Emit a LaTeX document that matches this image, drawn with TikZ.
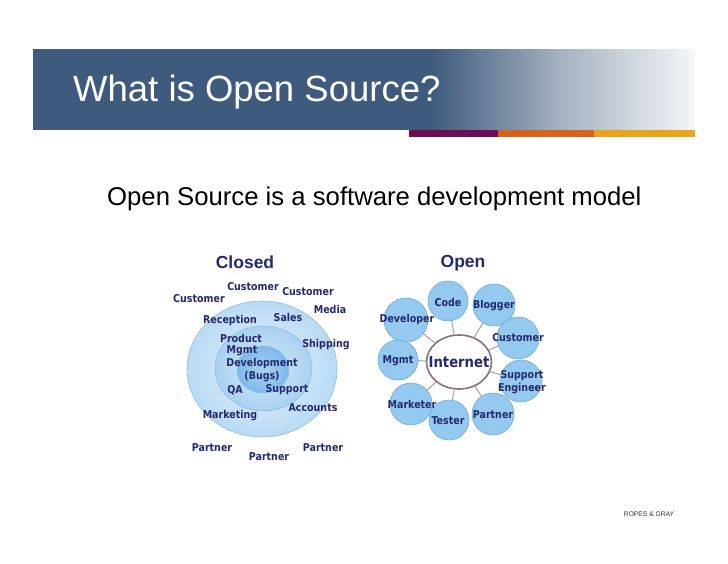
\documentclass[tikz,border=0pt]{standalone}
\usepackage{fontspec}
\setmainfont{Liberation Sans}
\newfontfamily\labfont{DejaVu Sans}[FakeStretch=0.88]
\usetikzlibrary{shapes.geometric}
\definecolor{bandblue}{HTML}{3E5A7C}
\definecolor{bandmid}{HTML}{A3B0C0}
\definecolor{bandend}{HTML}{F4F6F9}
\definecolor{barpurple}{HTML}{6B0C55}
\definecolor{barorange}{HTML}{D9621A}
\definecolor{baryellow}{HTML}{E9A41C}
\definecolor{navy}{HTML}{26296B}
\definecolor{ringAin}{HTML}{E6F3FD}
\definecolor{ringAout}{HTML}{B9DAF4}
\definecolor{ringBin}{HTML}{D3EAFB}
\definecolor{ringBout}{HTML}{A9D1F1}
\definecolor{ringCin}{HTML}{A8D3F4}
\definecolor{ringCout}{HTML}{7DB9EA}
\definecolor{ringline}{HTML}{8DBDE5}
\definecolor{satfill}{HTML}{94C9F0}
\definecolor{satdraw}{HTML}{6AA8DA}
\definecolor{inetline}{HTML}{8B6F80}
\definecolor{conn}{HTML}{A89E9E}
\begin{document}
\begin{tikzpicture}[x=1pt,y=-1pt,
  lab/.style={font=\labfont\fontsize{10.8}{13.7}\selectfont\bfseries, text=navy, inner sep=0pt, align=center},
  head/.style={font=\fontsize{17.5}{20}\selectfont\bfseries, text=navy, inner sep=0pt},
  ring/.style={ellipse, draw=ringline, line width=0.6pt, inner sep=0pt},
  sat/.style={circle, fill=satfill, draw=satdraw, line width=0.6pt, inner sep=0pt},
  connector/.style={draw=conn, line width=1pt}]
\useasboundingbox (0,0) rectangle (728,563);
% header band
\fill[bandblue] (33,49) rectangle (431,130);
\shade[left color=bandblue, right color=bandmid] (430,49) rectangle (558,130);
\shade[left color=bandmid, right color=bandend] (557,49) rectangle (695,130);
\fill[barpurple] (409,130) rectangle (498,137);
\fill[barorange] (498,130) rectangle (594,137);
\fill[baryellow] (594,130) rectangle (695,137);
\node[anchor=base west, text=white, inner sep=0pt, font=\fontsize{36.5}{40}\selectfont] (title) at (73,101) {What is Open Source?};
\node[anchor=base west, text=black, inner sep=0pt, font=\fontsize{25.7}{28}\selectfont] (subtitle) at (107,205) {Open Source is a software development model};
% closed diagram
\node[head] (closed) at (245,262) {Closed};
\node[ring, inner color=ringAin, outer color=ringAout, minimum width=150, minimum height=136] (outer) at (262,369) {};
\node[ring, inner color=ringBin, outer color=ringBout, minimum width=97, minimum height=85] (middle) at (263.5,368.5) {};
\node[ring, inner color=ringCin, outer color=ringCout, minimum width=52, minimum height=47] (inner) at (263,369.5) {};
\node[lab] (c1) at (199,299) {Customer};
\node[lab] (c2) at (253,287) {Customer};
\node[lab] (c3) at (308,292) {Customer};
\node[lab] (media) at (330,309) {Media};
\node[lab] (reception) at (230,321) {Reception};
\node[lab] (sales) at (288,317) {Sales};
\node[lab] (product) at (241,338) {Product};
\node[lab] (mgmtc) at (242,351) {Mgmt};
\node[lab] (shipping) at (326,345) {Shipping};
\node[lab] (dev) at (262,363.5) {Development};
\node[lab] (bugs) at (262,377) {(Bugs)};
\node[lab] (qa) at (235,390) {QA};
\node[lab] (support) at (287,390) {Support};
\node[lab] (accounts) at (313,408) {Accounts};
\node[lab] (marketing) at (230,416) {Marketing};
\node[lab] (p1) at (212,448) {Partner};
\node[lab] (p2) at (269,457) {Partner};
\node[lab] (p3) at (323,448) {Partner};
% open diagram
\node[head] (open) at (463,263) {Open};
\node[ellipse, draw=inetline, fill=white, line width=1.6pt, minimum width=65, minimum height=54, inner sep=0pt] (inet) at (459,362) {};
\node[sat, minimum size=40] (code) at (448,301) {};
\node[sat, minimum size=42] (blogger) at (494,305) {};
\node[sat, minimum size=44] (developer) at (406,320) {};
\node[sat, minimum size=42] (customer) at (518,338) {};
\node[sat, minimum size=40] (mgmt) at (398,360) {};
\node[sat, minimum size=42] (supeng) at (521,381) {};
\node[sat, minimum size=42] (marketer) at (411,404) {};
\node[sat, minimum size=40] (tester) at (449,420) {};
\node[sat, minimum size=42] (partner) at (493,414) {};
\foreach \s in {code,blogger,developer,customer,mgmt,supeng,marketer,tester,partner}
  \draw[connector] (inet) -- (\s);
\node[lab, font=\labfont\fontsize{15}{18}\selectfont\bfseries] (inettext) at (459,362) {Internet};
\node[lab] (codeT) at (448,302) {Code};
\node[lab] (bloggerT) at (494,306) {Blogger};
\node[lab] (developerT) at (407,320) {Developer};
\node[lab] (customerT) at (518,338) {Customer};
\node[lab] (mgmtT) at (398,361) {Mgmt};
\node[lab, font=\labfont\fontsize{10.8}{12.5}\selectfont\bfseries] (supengT) at (522,382) {Support\\Engineer};
\node[lab] (marketerT) at (412,404) {Marketer};
\node[lab] (testerT) at (448,421) {Tester};
\node[lab] (partnerT) at (493,415) {Partner};
% footer
\node[text=black!80, inner sep=0pt, font=\fontsize{6.7}{8}\selectfont] (footer) at (649,514) {ROPES \& GRAY};
\end{tikzpicture}
\end{document}
